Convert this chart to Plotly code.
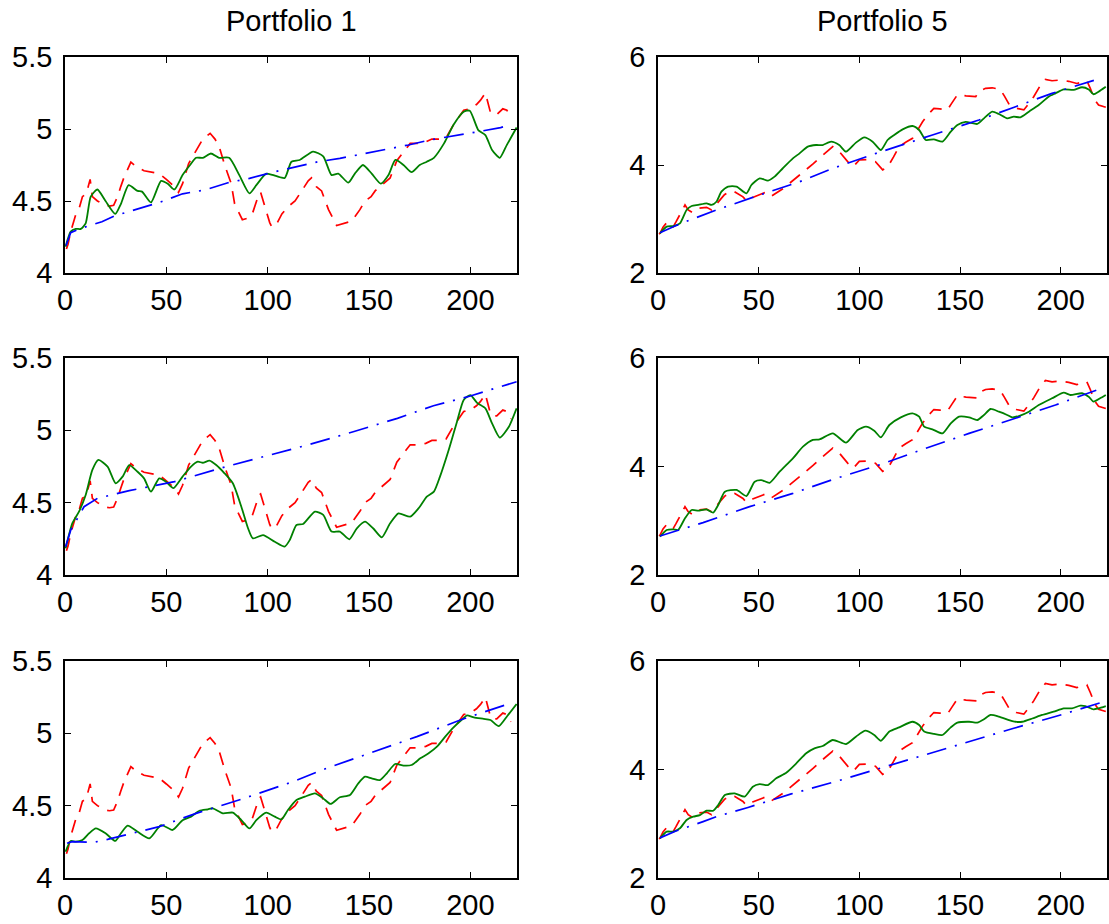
import plotly.graph_objects as go

# ---------------- Portfolio 1 ----------------
p1_red_t = [0.7,1.5,2.8,4,5.6,7,8.6,10.5,12.4,13.5,16,19.8,22,24,25.9,27.5,29,32.5,35,39,42,44,46.5,50,54,56,58,61,65.5,68,71.6,74,76,79,82,83.7,87.5,90,92.4,95.7,96.5,99,101,102,104,107,110,113.5,118,120,121.6,124,126.6,128,130,134,137,141.4,145.5,148,151,153,155.4,158,160.4,163.7,166,167.8,170.3,172,174.4,178,181,185,188,191.7,194,196.7,200,203,205,207.4,210,211.5,213,216,218,220]
p1_red_v = [4.167,4.20,4.287,4.35,4.42,4.45,4.53,4.55,4.65,4.53,4.50,4.47,4.465,4.47,4.53,4.60,4.66,4.77,4.74,4.71,4.70,4.695,4.69,4.65,4.60,4.56,4.62,4.76,4.87,4.93,4.97,4.93,4.88,4.74,4.62,4.48,4.37,4.38,4.41,4.55,4.56,4.44,4.35,4.32,4.33,4.41,4.46,4.50,4.60,4.64,4.66,4.60,4.57,4.52,4.44,4.33,4.34,4.36,4.44,4.50,4.53,4.57,4.60,4.63,4.66,4.78,4.82,4.85,4.90,4.90,4.90,4.91,4.93,4.93,4.94,5.03,5.08,5.13,5.14,5.17,5.20,5.25,5.11,5.10,5.10,5.14,5.13,5.08]

p1_g1_t = [0.3,2.8,5.3,7.8,10.2,12.7,16,20,24.8,27.6,31.4,35.8,38,42.4,47.4,50.7,54,58,61.7,64.7,68,72,76,81,86,91,94.4,99.3,104,108.4,111.7,115.8,122.4,127.4,131.5,134.8,139.8,143,147,151.3,155.8,159.6,163,167,171,175,178.5,182,187,191.7,196.7,199.7,204,207.4,210.7,214.5,218,222.8]
p1_g1_v = [4.183,4.287,4.306,4.306,4.345,4.53,4.58,4.50,4.41,4.48,4.61,4.57,4.565,4.49,4.64,4.62,4.58,4.68,4.75,4.80,4.80,4.83,4.80,4.80,4.68,4.553,4.61,4.69,4.674,4.66,4.773,4.785,4.843,4.81,4.68,4.69,4.627,4.69,4.75,4.69,4.62,4.68,4.785,4.75,4.70,4.75,4.773,4.80,4.90,5.03,5.12,5.127,4.99,4.958,4.854,4.80,4.89,5.01]
p1_b1_t = [0.5,2.8,7.8,18.2,24.3,35,46.5,58,68.8,80.4,91,102.6,113.4,125,135.6,146.4,158,169.5,180,191.7,203.3,214.9,220]
p1_b1_v = [4.19,4.28,4.31,4.356,4.396,4.44,4.49,4.55,4.576,4.627,4.657,4.70,4.734,4.773,4.796,4.826,4.854,4.889,4.924,4.951,4.98,5.01,5.03]

p1_g2_t = [0.3,3.6,6.9,10.2,13.5,16.5,21,25,28.4,31.7,35.8,39,42.4,46.5,49.8,53.5,58,62.2,65.5,68,71.3,74.6,78.7,82.8,87,90.3,92.7,97.7,103.5,108.4,110.9,114.2,117.5,123.3,127.4,131.5,135.6,140.3,144,148,152,156.3,160.4,164.5,170.3,174.4,178.5,182,185,189.3,193.4,196.7,200,203.3,207.4,210.7,214.5,219,222.8]
p1_g2_v = [4.184,4.357,4.438,4.553,4.726,4.795,4.749,4.634,4.68,4.76,4.714,4.668,4.576,4.668,4.645,4.60,4.68,4.749,4.783,4.776,4.79,4.76,4.703,4.634,4.472,4.323,4.253,4.276,4.23,4.196,4.242,4.346,4.353,4.438,4.415,4.30,4.30,4.247,4.323,4.369,4.323,4.26,4.357,4.426,4.403,4.46,4.541,4.576,4.68,4.864,5.06,5.21,5.244,5.19,5.152,5.048,4.95,5.025,5.152]
p1_b2_t = [0.3,2.8,9.4,16,31.7,54,79.5,120,142.2,164,181.8,200,208.3,222.8]
p1_b2_v = [4.196,4.31,4.472,4.53,4.583,4.645,4.749,4.90,4.99,5.083,5.17,5.237,5.274,5.336]

p1_g3_t = [0.3,2.8,5.3,8.6,11.9,15.2,20,24.8,27.6,30.9,35.8,41.6,47.4,53.1,58,62.2,66.3,70.5,72.9,77.9,82.8,87,91,94.4,99.3,103.5,106.8,110,114.2,118.3,123.3,127.4,131,135.6,140.6,144.7,148,151.3,155.4,158.8,162.9,167,171,175.3,179.4,183.5,187.6,191.7,196,198.3,201.7,206.6,209.9,214,218.2,222.8]
p1_g3_v = [4.182,4.256,4.251,4.263,4.309,4.343,4.309,4.256,4.309,4.362,4.32,4.274,4.366,4.332,4.40,4.424,4.465,4.475,4.482,4.447,4.452,4.40,4.343,4.40,4.452,4.424,4.405,4.47,4.539,4.562,4.585,4.55,4.512,4.558,4.574,4.654,4.70,4.689,4.677,4.724,4.788,4.777,4.781,4.827,4.862,4.908,4.977,5.041,5.097,5.124,5.11,5.10,5.092,5.05,5.12,5.203]
p1_b3_t = [1,3.6,14.4,21,46.5,64.7,87,112.5,129,152,173.6,195,210,218]
p1_b3_v = [4.24,4.251,4.247,4.267,4.355,4.447,4.544,4.666,4.758,4.873,4.977,5.092,5.161,5.20]

# ---------------- Portfolio 5 ----------------
p5_red_t = [0.5,1,2.5,4.3,6.3,7.6,9,10.9,13.4,15,17,20,24.1,26.6,29.9,33,36,38,42.2,43.9,47,50,53,55.8,58.7,62,65.3,70,73.6,77,80.5,84,86.8,90,94.2,97,100,104,108,111.6,114,117,119.8,123,126.4,129,131.4,134,137,140,143.7,146,148.7,153,157.8,159.4,162.7,166,170,172,174.6,178,181.7,184,186.6,189.5,192.4,195.7,199.8,204,208,211,213,214.7,217,218.8,222.4]
p5_red_v = [2.72,2.735,2.85,2.93,2.92,2.86,2.95,3.074,3.26,3.167,3.12,3.20,3.216,3.167,3.32,3.45,3.52,3.506,3.41,3.34,3.40,3.45,3.488,3.41,3.475,3.56,3.66,3.80,3.907,4.02,4.142,4.26,4.34,4.25,4.062,3.97,4.093,4.10,4.06,3.91,3.957,4.15,4.34,4.42,4.494,4.65,4.80,4.93,5.05,5.04,5.02,5.15,5.30,5.28,5.265,5.36,5.42,5.43,5.40,5.28,5.11,5.05,5.02,5.13,5.265,5.45,5.586,5.56,5.574,5.55,5.51,5.54,5.56,5.42,5.2,5.11,5.07]

p5_g1_t = [1,4.3,7.6,10.9,14.2,16.7,20,24.1,26.6,29,31.5,34.8,39,43.9,46.4,50.5,54.6,57.9,62,67,70.3,74.4,78.5,81.8,86,90,93.4,98.3,102.5,106.6,110.7,114,117.3,121.5,126.4,129.7,133,137,141.3,145.4,148.7,152.8,158.6,161.9,166,169.3,173.4,176.7,180,184.2,189.1,194,197.4,201.5,206.4,210.6,213.9,216.3,218.8,222.4]
p5_g1_v = [2.735,2.858,2.87,2.92,3.167,3.24,3.26,3.29,3.26,3.32,3.506,3.60,3.60,3.475,3.63,3.753,3.71,3.784,3.94,4.123,4.216,4.34,4.37,4.37,4.432,4.37,4.247,4.414,4.512,4.432,4.278,4.463,4.556,4.66,4.722,4.648,4.463,4.475,4.432,4.617,4.74,4.80,4.76,4.864,4.988,4.944,4.864,4.895,4.883,4.988,5.11,5.265,5.327,5.40,5.39,5.44,5.40,5.31,5.358,5.45]
p5_b1_t = [1,7.6,15.8,29,50.5,70.3,86.8,108.3,136.3,159.4,177.6,195.7,218]
p5_b1_v = [2.747,2.858,2.98,3.167,3.444,3.69,3.938,4.216,4.556,4.833,5.08,5.327,5.586]

p5_g2_t = [1,4.3,7.6,10,13.4,16.7,20,24.1,27.4,29.9,33.2,39,43.9,48,51.3,55.4,60.4,67,72,76.9,80.2,86.8,93.4,99.2,103.3,107.4,110.7,114.9,120.6,126.4,129.7,132.2,136.3,141.3,145.4,149.5,154.5,158.6,161.9,165.2,169.3,173.4,175.9,179.2,184.2,189.1,195.7,201.5,204.8,210.6,213.9,216.3,219.6,222.4]
p5_g2_v = [2.707,2.83,2.842,2.83,3.045,3.198,3.186,3.21,3.15,3.29,3.536,3.567,3.456,3.72,3.75,3.70,3.905,4.15,4.366,4.49,4.50,4.61,4.44,4.673,4.734,4.66,4.538,4.765,4.906,4.98,4.92,4.734,4.685,4.61,4.795,4.92,4.906,4.857,4.95,5.06,5.01,4.95,4.906,4.93,5.01,5.134,5.257,5.36,5.318,5.35,5.287,5.195,5.257,5.318]
p5_b2_t = [1,10.9,22.4,45.5,67,88.4,109.9,133,154.5,176,197.4,218.8]
p5_b2_v = [2.72,2.84,2.965,3.26,3.505,3.78,4.03,4.335,4.61,4.87,5.134,5.42]

p5_g3_t = [1,4.3,7.6,10.9,14.2,17.5,20.8,24.1,27.4,29.9,33.2,38.1,43,47.1,50.5,54.6,58.7,63.7,68.6,73.6,77.7,81.8,86.8,93.4,98.3,103,107.4,110.7,114.9,119.8,126.4,129.7,132.2,137.1,141.3,145.4,148.7,154.5,158.6,161.9,165.2,169.3,174.3,177.6,180.9,185.9,190.8,196.5,201.5,205.6,209.7,212.2,216.3,218.8,222.4]
p5_g3_v = [2.73,2.854,2.854,2.916,3.07,3.13,3.16,3.24,3.24,3.345,3.53,3.56,3.50,3.684,3.73,3.714,3.837,3.94,4.11,4.30,4.39,4.433,4.544,4.47,4.605,4.716,4.636,4.53,4.70,4.777,4.88,4.82,4.70,4.655,4.636,4.777,4.863,4.88,4.863,4.925,5.005,4.974,4.912,4.88,4.88,4.94,5.005,5.066,5.127,5.127,5.177,5.17,5.109,5.127,5.17]
p5_b3_t = [1,9.2,22.4,29,44.7,66.2,88.4,109.9,133,154.5,176.7,198.2,220.5]
p5_b3_v = [2.74,2.87,3.04,3.13,3.30,3.55,3.78,4.02,4.27,4.513,4.76,4.986,5.238]

titles = ["Portfolio 1", "Portfolio 5"]
x_ticks = [0, 50, 100, 150, 200]
y_ticks_left = [4, 4.5, 5, 5.5]
y_ticks_right = [2, 4, 6]

W, H = 1109, 924
OFF = 0  # body margin removed by post_script below
ML, MR, MT, MB = 55, 1, 45, 30
PW, PH = W - ML - MR, H - MT - MB
col_px = [(65, 517), (658, 1107)]
row_px = [(57, 273), (358, 575), (661, 878)]


def fx(px):
    return (px - OFF - ML) / PW


def fy(py):
    return 1 - (py - OFF - MT) / PH


panels = [
    (0, 0, p1_red_t, p1_red_v, p1_g1_t, p1_g1_v, p1_b1_t, p1_b1_v),
    (0, 1, p5_red_t, p5_red_v, p5_g1_t, p5_g1_v, p5_b1_t, p5_b1_v),
    (1, 0, p1_red_t, p1_red_v, p1_g2_t, p1_g2_v, p1_b2_t, p1_b2_v),
    (1, 1, p5_red_t, p5_red_v, p5_g2_t, p5_g2_v, p5_b2_t, p5_b2_v),
    (2, 0, p1_red_t, p1_red_v, p1_g3_t, p1_g3_v, p1_b3_t, p1_b3_v),
    (2, 1, p5_red_t, p5_red_v, p5_g3_t, p5_g3_v, p5_b3_t, p5_b3_v),
]

FONT = "Liberation Sans, Arial, Helvetica, sans-serif"
fig = go.Figure()
layout = dict(
    width=W, height=H, margin=dict(l=ML, r=MR, t=MT, b=MB, autoexpand=False),
    paper_bgcolor="white", plot_bgcolor="white", showlegend=False,
    font=dict(family=FONT, size=29, color="black"),
)

for i, (r, c, rt, rv, gt, gv, bt, bv) in enumerate(panels):
    n = i + 1
    xs = "" if n == 1 else str(n)
    xa, ya = "x" + xs, "y" + xs
    fig.add_trace(go.Scatter(x=rt, y=rv, mode="lines", xaxis=xa, yaxis=ya,
                             line=dict(color="#FF0000", width=1.7, dash="13px,9px")))
    fig.add_trace(go.Scatter(x=gt, y=gv, mode="lines", xaxis=xa, yaxis=ya,
                             line=dict(color="#008000", width=1.8, shape="spline", smoothing=0.6)))
    fig.add_trace(go.Scatter(x=bt, y=bv, mode="lines", xaxis=xa, yaxis=ya,
                             line=dict(color="#0000FF", width=1.7, dash="20px,9px,2px,9px")))
    x0, x1 = col_px[c]
    y0, y1 = row_px[r]
    common = dict(showline=True, linecolor="black", linewidth=1.5, mirror="ticks",
                  ticks="inside", ticklen=6, tickwidth=1, tickcolor="black",
                  showgrid=False, zeroline=False, automargin=False,
                  tickfont=dict(size=29, family=FONT))
    layout["xaxis" + xs] = dict(domain=[fx(x0), fx(x1)], anchor=ya, range=[0, 223],
                                tickvals=x_ticks, ticklabelstandoff=0, **common)
    yt = y_ticks_left if c == 0 else y_ticks_right
    layout["yaxis" + xs] = dict(domain=[fy(y1), fy(y0)], anchor=xa,
                                range=[yt[0], yt[-1]], tickvals=yt,
                                ticklabelstandoff=5, **common)

annotations = []
for c, t in enumerate(titles):
    x0, x1 = col_px[c]
    annotations.append(dict(text=t, x=fx((x0 + x1) / 2), y=fy(3), xref="paper", yref="paper",
                            showarrow=False, xanchor="center", yanchor="top",
                            font=dict(size=29, family=FONT, color="black")))
layout["annotations"] = annotations
fig.update_layout(**layout)
fig.write_html(
    "out.html",
    config={"displayModeBar": False},
    post_script="document.body.style.margin='0px';document.body.style.overflow='hidden';",
)
